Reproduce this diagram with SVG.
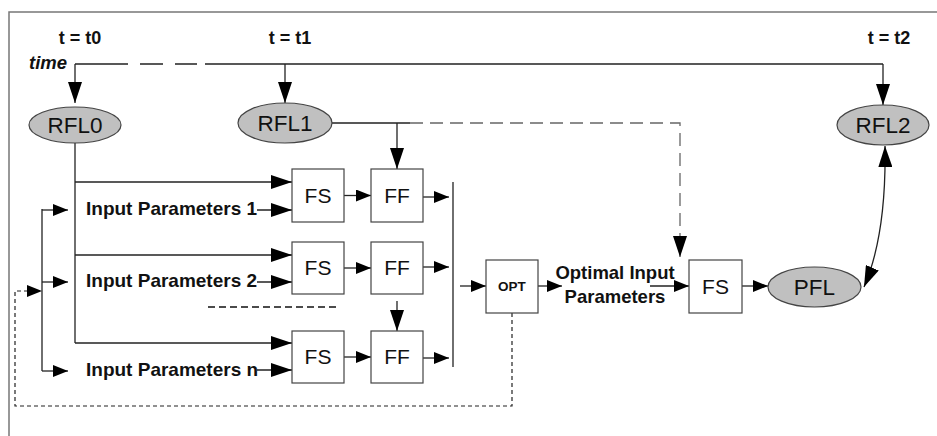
<svg xmlns="http://www.w3.org/2000/svg" width="937" height="436" viewBox="0 0 937 436">
<style>
.frame{fill:none;stroke:#777;stroke-width:1.5}
.ln{fill:none;stroke:#222;stroke-width:1.3}
.dg{fill:none;stroke:#666;stroke-width:1.3;stroke-dasharray:13 7}
.fb{fill:none;stroke:#222;stroke-width:1.2;stroke-dasharray:4 3}
.sep{fill:none;stroke:#111;stroke-width:1.6;stroke-dasharray:7 4}
.ell{fill:#c0c0c0;stroke:#444;stroke-width:1.2}
.box{fill:#fff;stroke:#444;stroke-width:1.2}
.lbl{font-family:"Liberation Sans",Arial,sans-serif;fill:#111;text-anchor:middle}
.b{font-family:"Liberation Sans",Arial,sans-serif;font-weight:bold;fill:#111}
</style>
<defs>
<marker id="big" markerUnits="userSpaceOnUse" markerWidth="21" markerHeight="14" refX="21" refY="7" orient="auto-start-reverse"><path d="M0,0 L21,7 L0,14 z" fill="#000"/></marker>
<marker id="sm" markerUnits="userSpaceOnUse" markerWidth="15" markerHeight="12" refX="15" refY="6" orient="auto"><path d="M0,0 L15,6 L0,12 z" fill="#000"/></marker>
</defs>
<path class="frame" d="M9,436 V12 H937"/>
<text class="b" x="80" y="44" font-size="18" text-anchor="middle">t = t0</text>
<text class="b" x="290" y="44" font-size="18" text-anchor="middle">t = t1</text>
<text class="b" x="889" y="44" font-size="18" text-anchor="middle">t = t2</text>
<text class="b" x="29" y="69" font-size="18.5" font-style="italic">time</text>
<g id="connectors">
<path class="ln" d="M75,64 H128 M140,64 H163 M175,64 H197 M205,64 H883"/>
<path class="ln" d="M75,64 V103" marker-end="url(#big)"/>
<path class="ln" d="M285,64 V103" marker-end="url(#big)"/>
<path class="ln" d="M883,64 V105" marker-end="url(#big)"/>
<path class="ln" d="M75,143 V343"/>
<path class="ln" d="M75,182 H292" marker-end="url(#big)"/>
<path class="ln" d="M75,255 H292" marker-end="url(#big)"/>
<path class="ln" d="M75,343 H292" marker-end="url(#big)"/>
<path class="ln" d="M257,210 H292" marker-end="url(#big)"/>
<path class="ln" d="M257,282 H292" marker-end="url(#big)"/>
<path class="ln" d="M257,370 H292" marker-end="url(#big)"/>
<path class="ln" d="M42,209 V371"/>
<path class="ln" d="M42,210 H68" marker-end="url(#sm)"/>
<path class="ln" d="M42,282 H68" marker-end="url(#sm)"/>
<path class="ln" d="M42,371 H68" marker-end="url(#sm)"/>
<path class="fb" d="M512,313 V406 H15 V291 H27"/>
<path d="M27,285 L42,291 L27,297 z" fill="#000"/>
<path class="ln" d="M344,195.5 H371" marker-end="url(#sm)"/>
<path class="ln" d="M344,268 H371" marker-end="url(#sm)"/>
<path class="ln" d="M344,357 H371" marker-end="url(#sm)"/>
<path class="ln" d="M423,197 H449" marker-end="url(#sm)"/>
<path class="ln" d="M423,267 H449" marker-end="url(#sm)"/>
<path class="ln" d="M423,358 H449" marker-end="url(#sm)"/>
<path class="ln" d="M453,182 V367"/>
<path class="ln" d="M460,286 H486" marker-end="url(#sm)"/>
<path class="ln" d="M538,286 H562" marker-end="url(#sm)"/>
<path class="ln" d="M650,286 H689" marker-end="url(#sm)"/>
<path class="ln" d="M742,286 H768" marker-end="url(#sm)"/>
<path class="ln" d="M332,123 H410 M397,123 V169" marker-end="url(#big)"/>
<path class="dg" d="M410,123 H680 V257" marker-end="url(#big)"/>
<path class="ln" d="M397,301 V331" marker-end="url(#big)"/>
<path class="sep" d="M208,307 H338"/>
<path class="ln" d="M885,146 C886,205 880,250 864,287" marker-start="url(#big)" marker-end="url(#big)"/>
</g>
<g id="RFL0"><ellipse class="ell" cx="75" cy="125" rx="46" ry="18"/><text class="lbl" x="75" y="133" font-size="22.5">RFL0</text></g>
<g id="RFL1"><ellipse class="ell" cx="285" cy="123" rx="47" ry="20"/><text class="lbl" x="285" y="131" font-size="22.5">RFL1</text></g>
<g id="RFL2"><ellipse class="ell" cx="883" cy="125" rx="46" ry="20"/><text class="lbl" x="883" y="133" font-size="22.5">RFL2</text></g>
<g id="PFL"><ellipse class="ell" cx="814.5" cy="287" rx="46.5" ry="20"/><text class="lbl" x="814.5" y="295" font-size="22.5">PFL</text></g>
<g id="FS1"><rect class="box" x="292" y="169" width="52" height="53"/><text class="lbl" x="318" y="203" font-size="21">FS</text></g>
<g id="FF1"><rect class="box" x="371" y="169" width="52" height="53"/><text class="lbl" x="397" y="203" font-size="21">FF</text></g>
<g id="FS2"><rect class="box" x="292" y="242" width="52" height="52"/><text class="lbl" x="318" y="275" font-size="21">FS</text></g>
<g id="FF2"><rect class="box" x="371" y="242" width="52" height="52"/><text class="lbl" x="397" y="275" font-size="21">FF</text></g>
<g id="FS3"><rect class="box" x="292" y="331" width="52" height="52"/><text class="lbl" x="318" y="364" font-size="21">FS</text></g>
<g id="FF3"><rect class="box" x="371" y="331" width="52" height="52"/><text class="lbl" x="397" y="364" font-size="21">FF</text></g>
<g id="OPT"><rect class="box" x="486" y="260" width="52" height="53"/><text class="b" x="512" y="291" font-size="13.5" text-anchor="middle">OPT</text></g>
<g id="FS4"><rect class="box" x="689" y="260" width="53" height="53"/><text class="lbl" x="715.5" y="294" font-size="21">FS</text></g>
<g id="IP1"><text class="b" x="86" y="215" font-size="19">Input Parameters 1</text></g>
<g id="IP2"><text class="b" x="86" y="287" font-size="19">Input Parameters 2</text></g>
<g id="IPn"><text class="b" x="86" y="376" font-size="19">Input Parameters n</text></g>
<g id="OIP"><text class="b" x="615" y="279" font-size="18.5" text-anchor="middle">Optimal Input</text><text class="b" x="615" y="303" font-size="18.5" text-anchor="middle">Parameters</text></g>
</svg>
